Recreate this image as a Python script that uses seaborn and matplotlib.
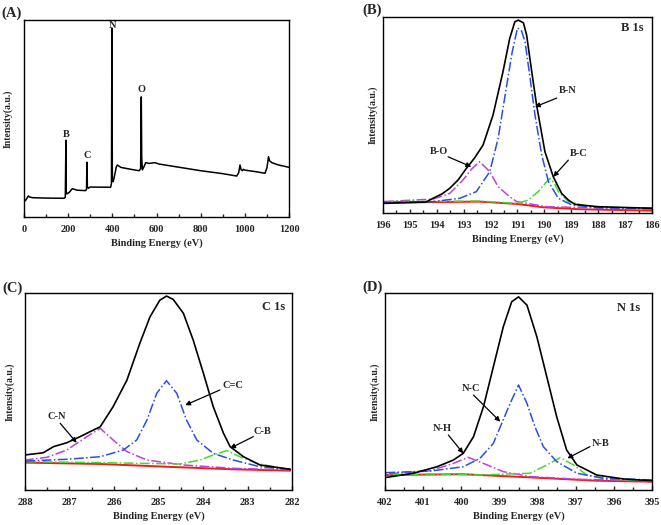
import matplotlib
matplotlib.use('Agg')
import matplotlib.pyplot as plt
import seaborn as sns
from matplotlib.ticker import MultipleLocator

sns.set_style('ticks')
plt.rcParams['font.family'] = ['Liberation Serif', 'DejaVu Serif']
plt.rcParams['font.weight'] = 'bold'

# ---- (A) survey spectrum, intensity in % of axis height ----
survey_ev = [0, 8, 20, 24, 38, 100, 181, 187, 189, 190, 191, 194, 205, 219, 240, 279,
             283, 285, 287, 291, 300, 392, 396, 398, 400, 404, 410, 418, 423, 438, 480,
             521, 528, 531, 533, 536, 545, 551, 566, 593, 611, 700, 800, 900, 963, 972,
             978, 983, 989, 993, 1000, 1050, 1091, 1100, 1107, 1112, 1122, 1150, 1200]
survey_int = [7.8, 8.6, 10.7, 10.2, 9.8, 9.6, 9.5, 10.0, 30.0, 39.0, 13.0, 11.7, 12.5, 14.4, 13.6, 13.4,
              14.0, 27.8, 15.5, 14.6, 15.2, 15.1, 17.0, 96.0, 19.0, 17.9, 21.0, 25.5, 26.4, 25.2, 24.3,
              23.5, 24.5, 61.0, 30.0, 23.9, 26.0, 27.6, 27.2, 27.6, 26.9, 25.3, 23.5, 22.0, 20.8, 22.5,
              26.4, 24.0, 23.5, 24.2, 23.8, 23.0, 22.2, 25.0, 30.6, 28.5, 27.6, 26.5, 25.2]
survey_labels = ['B', 'C', 'N', 'O']
survey_label_ev = [190, 287, 400, 533]
survey_label_int = [42.1, 31.1, 97.5, 64.5]

# ---- (B) B 1s ----
b_env_ev = [196.0, 194.4, 194.14, 193.8, 193.52, 193.2, 192.9, 192.6, 192.28, 191.91, 191.54,
            191.29, 191.1, 190.97, 190.78, 190.66, 190.47, 190.29, 189.98, 189.67, 189.36,
            189.1, 188.86, 188.0, 186.0]
b_env = [4.9, 5.6, 7.5, 9.8, 12.6, 17.0, 22.8, 28.0, 34.7, 50.0, 72.1,
         89.1, 97.6, 98.5, 97.1, 90.8, 72.1, 55.1, 31.3, 18.5, 10.0,
         6.5, 4.4, 3.2, 2.4]
b_bn_ev = [196.0, 194.14, 193.15, 192.53, 192.03, 191.72, 191.42, 191.2, 191.0, 190.85, 190.72,
           190.53, 190.35, 190.1, 189.85, 189.48, 188.98, 188.0, 186.0]
b_bn = [5.5, 5.8, 7.5, 10.9, 21.1, 38.1, 63.6, 82.0, 94.5, 93.0, 87.4,
        68.7, 50.0, 29.6, 16.0, 7.5, 4.1, 2.7, 2.4]
b_bo_ev = [196.0, 194.14, 193.52, 193.03, 192.7, 192.41, 192.03, 191.72, 191.29, 191.03, 189.91, 186.0]
b_bo = [5.8, 7.1, 10.0, 16.8, 22.5, 26.2, 21.1, 13.4, 8.3, 5.8, 3.2, 1.9]
b_bc_ev = [196.0, 192.4, 191.0, 190.6, 190.23, 189.95, 189.79, 189.62, 189.48, 189.1, 188.37, 186.0]
b_bc = [5.8, 6.1, 4.9, 6.6, 10.9, 15.5, 17.7, 15.0, 10.9, 5.8, 3.2, 2.4]
b_base_ev = [196.0, 192.4, 191.0, 190.04, 188.67, 186.0]
b_base = [5.3, 5.8, 4.6, 2.9, 1.9, 1.2]

# ---- (C) C 1s ----
c_env_ev = [288.0, 287.81, 287.59, 287.36, 287.06, 286.76, 286.54, 286.31, 286.02, 285.71, 285.42,
            285.19, 284.97, 284.82, 284.67, 284.44, 284.22, 283.99, 283.77, 283.54, 283.39, 283.09,
            282.72, 282.04]
c_env = [17.8, 18.3, 18.9, 22.0, 24.0, 27.1, 29.6, 32.1, 42.3, 55.8, 74.5,
         88.0, 96.4, 98.5, 96.8, 89.7, 76.1, 59.2, 42.3, 28.8, 22.0, 16.9,
         12.7, 10.5]
c_cc_ev = [288.0, 287.06, 286.31, 285.79, 285.49, 285.26, 285.04, 284.82, 284.59, 284.37, 284.14,
           283.77, 283.32, 282.72, 282.04]
c_cc = [14.7, 15.6, 16.9, 20.3, 25.4, 35.5, 49.1, 55.5, 49.1, 35.5, 25.4,
        18.6, 15.2, 11.8, 10.5]
c_cn_ev = [288.0, 287.51, 287.06, 286.61, 286.31, 286.02, 285.71, 285.26, 284.44, 283.32, 282.04]
c_cn = [15.2, 16.6, 20.3, 27.1, 31.3, 25.4, 19.5, 15.2, 12.7, 11.0, 10.2]
c_cb_ev = [288.0, 286.31, 284.52, 284.07, 283.77, 283.47, 283.17, 282.79, 282.34, 282.04]
c_cb = [14.4, 13.9, 13.2, 15.2, 17.8, 20.0, 16.9, 13.5, 11.5, 10.5]
c_base_ev = [288.0, 286.31, 284.82, 283.32, 282.04]
c_base = [13.9, 13.2, 11.8, 10.5, 9.8]

# ---- (D) N 1s ----
n_env_ev = [401.96, 401.26, 400.64, 400.21, 399.95, 399.68, 399.42, 399.16, 398.9, 398.68, 398.5,
            398.28, 398.02, 397.76, 397.5, 397.24, 396.97, 396.45, 395.75, 395.01]
n_env = [6.4, 8.5, 11.8, 15.2, 18.6, 27.1, 42.3, 62.6, 82.9, 95.6, 98.1,
         93.9, 77.8, 57.5, 37.2, 20.3, 12.7, 7.6, 5.6, 4.7]
n_nc_ev = [402.0, 400.82, 399.95, 399.51, 399.16, 398.94, 398.72, 398.5, 398.28, 398.07, 397.85,
           397.5, 396.97, 396.28, 395.0]
n_nc = [8.8, 9.6, 11.8, 16.1, 23.7, 33.9, 44.0, 53.3, 44.0, 32.1, 22.0,
        14.4, 8.5, 5.9, 5.1]
n_nh_ev = [402.0, 400.82, 400.21, 399.82, 399.42, 398.9, 398.19, 396.88, 395.0]
n_nh = [8.1, 9.8, 13.5, 16.6, 13.5, 9.3, 6.8, 5.4, 4.7]
n_nb_ev = [402.0, 400.82, 399.51, 398.2, 397.76, 397.41, 397.06, 396.71, 396.0, 395.0]
n_nb = [7.6, 8.1, 7.6, 8.5, 12.7, 16.4, 12.7, 7.6, 5.4, 4.7]
n_base_ev = [402.0, 399.95, 398.2, 396.45, 395.0]
n_base = [7.6, 8.0, 6.4, 4.7, 4.2]

BLUE, MAGENTA, GREEN, RED = '#2a4fe0', '#c23fd8', '#3fdc2c', '#ee1c1c'
TICK = 7.5

fig = plt.figure(figsize=(6.61, 5.25), dpi=100)
axA = fig.add_axes([0.0363, 0.5867, 0.401, 0.375])
axB = fig.add_axes([0.5794, 0.5943, 0.407, 0.373])
axC = fig.add_axes([0.0378, 0.0667, 0.404, 0.375])
axD = fig.add_axes([0.5825, 0.0667, 0.404, 0.375])


def style_axis(ax, xlim, major, minor, ylab_x):
    ax.set_xlim(*xlim)
    ax.set_ylim(0, 100)
    ax.set_yticks([])
    ax.xaxis.set_major_locator(MultipleLocator(major))
    ax.xaxis.set_minor_locator(MultipleLocator(minor))
    ax.tick_params(axis='x', which='major', direction='in', length=3, width=1,
                   labelsize=TICK, pad=5.5)
    ax.tick_params(axis='x', which='minor', direction='in', length=2, width=1)
    for lab in ax.get_xticklabels():
        lab.set_fontweight('bold')
    for s in ax.spines.values():
        s.set_linewidth(1.0)
        s.set_color('black')
    ax.set_xlabel('Binding Energy (eV)', fontsize=TICK, fontweight='bold', labelpad=3.5)
    ax.set_ylabel('Intensity(a.u.)', fontsize=7, fontweight='bold')
    ax.yaxis.set_label_coords(ylab_x, 0.5)


def fit_panel(ax, env, comps, base):
    sns.lineplot(x=base[0], y=base[1], ax=ax, color=RED, lw=1.4)
    for (xs, ys, col) in comps:
        sns.lineplot(x=xs, y=ys, ax=ax, color=col, lw=1.1, linestyle='-.')
    sns.lineplot(x=env[0], y=env[1], ax=ax, color='black', lw=1.2)


def arrow(ax, text, txy, tip, lab_xy):
    ax.annotate('', xy=tip, xytext=txy,
                arrowprops=dict(arrowstyle='-|>', color='black', lw=0.9,
                                mutation_scale=7, shrinkA=0, shrinkB=0))
    ax.text(lab_xy[0], lab_xy[1], text, fontsize=7.5, fontweight='bold',
            ha='center', va='center')


# (A)
sns.lineplot(x=survey_ev, y=survey_int, ax=axA, color='black', lw=1.1)
style_axis(axA, (0, 1200), 200, 100, -0.042)
for t, xv, yv in zip(survey_labels, survey_label_ev, survey_label_int):
    axA.text(xv, yv, t, fontsize=7.5, fontweight='bold', ha='center', va='center')

# (B)
fit_panel(axB, (b_env_ev, b_env),
          [(b_bo_ev, b_bo, MAGENTA), (b_bc_ev, b_bc, GREEN), (b_bn_ev, b_bn, BLUE)],
          (b_base_ev, b_base))
style_axis(axB, (196, 186), 1, 0.5, -0.019)
axB.text(186.33, 94.4, 'B 1s', fontsize=9, fontweight='bold', ha='right', va='center')
arrow(axB, 'B-N', (189.54, 58.7), (190.35, 54.2), (189.14, 62.8))
arrow(axB, 'B-C', (189.11, 27.0), (189.67, 18.5), (188.74, 30.4))
arrow(axB, 'B-O', (193.58, 28.7), (192.72, 23.6), (193.92, 31.3))

# (C)
fit_panel(axC, (c_env_ev, c_env),
          [(c_cn_ev, c_cn, MAGENTA), (c_cb_ev, c_cb, GREEN), (c_cc_ev, c_cc, BLUE)],
          (c_base_ev, c_base))
style_axis(axC, (288, 282), 1, 0.5, -0.037)
axC.text(282.16, 93.0, 'C 1s', fontsize=9, fontweight='bold', ha='right', va='center')
arrow(axC, 'C=C', (283.62, 50.8), (284.4, 43.1), (283.33, 53.3))
arrow(axC, 'C-N', (287.21, 33.9), (286.84, 24.0), (287.28, 37.2))
arrow(axC, 'C-B', (282.87, 27.1), (283.39, 21.2), (282.66, 29.6))

# (D)
fit_panel(axD, (n_env_ev, n_env),
          [(n_nh_ev, n_nh, MAGENTA), (n_nb_ev, n_nb, GREEN), (n_nc_ev, n_nc, BLUE)],
          (n_base_ev, n_base))
style_axis(axD, (402, 395), 1, 0.5, -0.019)
axD.text(395.31, 92.2, 'N 1s', fontsize=9, fontweight='bold', ha='right', va='center')
arrow(axD, 'N-C', (399.68, 48.2), (398.98, 34.7), (399.75, 51.6))
arrow(axD, 'N-H', (400.34, 27.9), (399.95, 18.6), (400.49, 31.3))
arrow(axD, 'N-B', (396.63, 22.0), (397.22, 16.1), (396.36, 23.7))

# panel letters
for t, xf, yf in [('(A)', 0.002, 1 - 13 / 525), ('(B)', 362 / 661, 1 - 10 / 525),
                  ('(C)', 0.003, 1 - 288 / 525), ('(D)', 362 / 661, 1 - 287 / 525)]:
    fig.text(xf, yf, t, fontsize=10.5, fontweight='bold', ha='left', va='center')

fig.savefig('out.png', dpi=100)
